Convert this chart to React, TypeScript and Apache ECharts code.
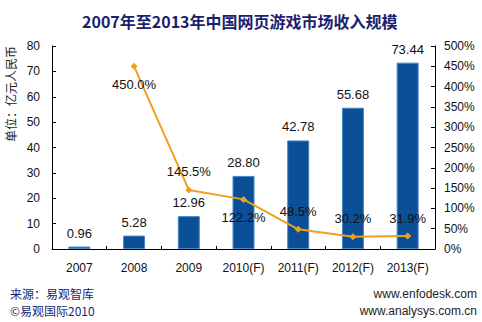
import React, { useEffect, useRef } from "react";
import * as echarts from "echarts";

const categories = ["2007", "2008", "2009", "2010(F)", "2011(F)", "2012(F)", "2013(F)"];
const revenue = [0.96, 5.28, 12.96, 28.8, 42.78, 55.68, 73.44];
const growth: (number | null)[] = [null, 450.0, 145.5, 122.2, 48.5, 30.2, 31.9];
const growthLabelPos = ["top", "bottom", "top", "bottom", "top", "top", "top"];

const FONT = "Liberation Sans, Arial, Noto Sans CJK SC, sans-serif";

export default function App() {
  const ref = useRef<HTMLDivElement>(null);
  useEffect(() => {
    if (!ref.current) return;
    const chart = echarts.init(ref.current, undefined, { renderer: "svg" });
    const txt = (pos: any, text: string, fill: string, font: string) => ({
      type: "text",
      ...pos,
      style: { text, fill, font },
    });
    chart.setOption({
      animation: false,
      backgroundColor: "#ffffff",
      textStyle: { fontFamily: FONT },
      grid: { left: 52, right: 47, top: 46, bottom: 73 },
      graphic: [
        txt({ left: 82, top: 13 }, "2007年至2013年中国网页游戏市场收入规模", "#1b1f6e", "bold 16px 'Noto Sans CJK SC', sans-serif"),
        txt({ left: 4, top: 46, rotation: Math.PI / 2 }, "单位：亿元人民币", "#222", "12px 'Noto Sans CJK SC', sans-serif"),
        txt({ left: 10, top: 287 }, "来源：易观智库", "#1b1f6e", "12px 'Noto Sans CJK SC', sans-serif"),
        txt({ left: 10, top: 304 }, "©易观国际2010", "#1b1f6e", "12px 'Noto Sans CJK SC', sans-serif"),
        txt({ right: 5, top: 288 }, "www.enfodesk.com", "#222", "12px 'Liberation Sans', Arial, sans-serif"),
        txt({ right: 5, top: 305 }, "www.analysys.com.cn", "#222", "12px 'Liberation Sans', Arial, sans-serif"),
      ],
      xAxis: {
        type: "category",
        data: categories,
        axisLine: { lineStyle: { color: "#000", width: 1 } },
        axisTick: { show: true, inside: true, length: 3, lineStyle: { color: "#000" } },
        axisLabel: { color: "#111", fontSize: 12, margin: 13, fontFamily: FONT },
        splitLine: { show: false },
      },
      yAxis: [
        {
          type: "value",
          min: 0,
          max: 80,
          interval: 10,
          axisLine: { show: true, lineStyle: { color: "#000" } },
          axisTick: { show: true, inside: true, length: 4, lineStyle: { color: "#000" } },
          axisLabel: { color: "#111", fontSize: 12, margin: 12, fontFamily: FONT },
          splitLine: { show: false },
        },
        {
          type: "value",
          min: 0,
          max: 500,
          interval: 50,
          position: "right",
          axisLine: { show: true, lineStyle: { color: "#000" } },
          axisTick: { show: true, inside: true, length: 4, lineStyle: { color: "#000" } },
          axisLabel: { color: "#111", fontSize: 12, margin: 9, formatter: "{value}%", fontFamily: FONT },
          splitLine: { show: false },
        },
      ],
      series: [
        {
          type: "bar",
          data: revenue,
          barWidth: 22,
          itemStyle: { color: "#0b4f96", borderColor: "#4a86c4", borderWidth: 1 },
          label: {
            show: true,
            position: "top",
            distance: 7,
            color: "#111",
            fontSize: 13,
            fontFamily: FONT,
            formatter: (p: any) => p.value.toFixed(2),
          },
        },
        {
          type: "line",
          yAxisIndex: 1,
          data: growth.map((v, i) => ({
            value: v,
            label: { position: growthLabelPos[i] },
          })),
          connectNulls: false,
          symbol: "diamond",
          symbolSize: 7,
          lineStyle: { color: "#f0a020", width: 2 },
          itemStyle: { color: "#f0a020" },
          label: {
            show: true,
            distance: 8,
            color: "#111",
            fontSize: 13,
            fontFamily: FONT,
            formatter: (p: any) => (p.value == null ? "" : p.value.toFixed(1) + "%"),
          },
        },
      ],
    });
    return () => chart.dispose();
  }, []);
  return <div ref={ref} style={{ position: "fixed", top: 0, left: 0, width: 482, height: 322 }} />;
}
